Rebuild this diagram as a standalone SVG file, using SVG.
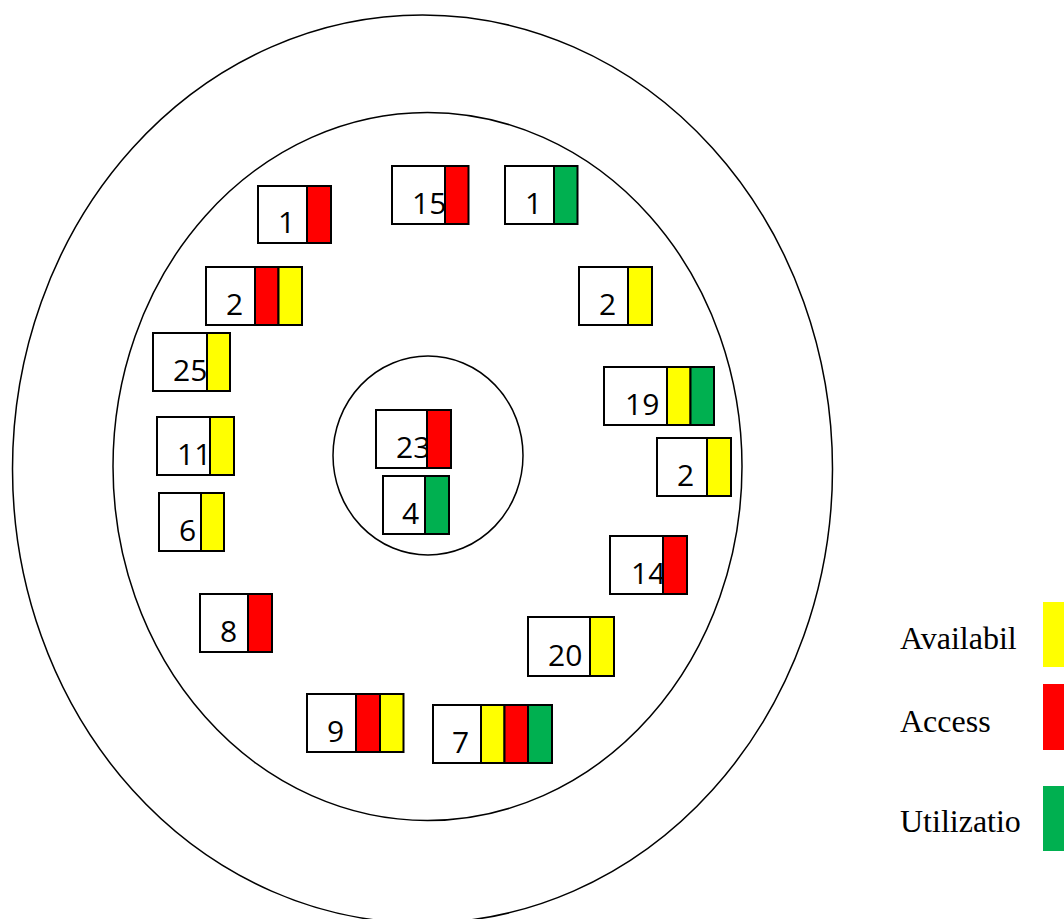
<svg xmlns="http://www.w3.org/2000/svg" width="1064" height="919" viewBox="0 0 1064 919">
  <style>
    .zone { fill: none; stroke: #000; stroke-width: 1.5; }
    .cell { fill: #fff; stroke: #000; stroke-width: 2; }
    .avail { fill: #FFFF00; stroke: #000; stroke-width: 2; }
    .access { fill: #FF0000; stroke: #000; stroke-width: 2; }
    .util { fill: #00B050; stroke: #000; stroke-width: 2; }
    .num { font-family: "Open Sans", "Noto Sans", sans-serif; font-size: 30px; fill: #000; }
    .key { font-family: "Liberation Serif", "Times New Roman", serif; font-size: 32px; fill: #000; }
    .swatch-a { fill: #FFFF00; }
    .swatch-r { fill: #FF0000; }
    .swatch-g { fill: #00B050; }
  </style>

  <rect width="1064" height="919" fill="#fff"/>

  <!-- concentric zones -->
  <g id="zones">
    <ellipse id="zone-outer" class="zone" cx="422.5" cy="469" rx="410" ry="454"/>
    <ellipse id="zone-middle" class="zone" cx="427.5" cy="466.5" rx="314.5" ry="354"/>
    <ellipse id="zone-core" class="zone" cx="428" cy="455.5" rx="95" ry="99.5"/>
  </g>

  <g id="connectors"/>

  <!-- counters: white cell with value, followed by status bars -->
  <g id="node-1">
    <rect class="cell" x="258" y="186" width="49" height="57"/>
    <text class="num" x="278" y="233">1</text>
    <rect class="access" x="307" y="186" width="24" height="57"/>
  </g>
  <g id="node-15">
    <rect class="cell" x="392" y="166" width="53" height="58"/>
    <text class="num" x="412" y="214">15</text>
    <rect class="access" x="445" y="166" width="23.5" height="58"/>
  </g>
  <g id="node-1b">
    <rect class="cell" x="505" y="166" width="49" height="58"/>
    <text class="num" x="525" y="214">1</text>
    <rect class="util" x="554" y="166" width="23.5" height="58"/>
  </g>
  <g id="node-2a">
    <rect class="cell" x="206" y="267" width="49" height="58"/>
    <text class="num" x="226" y="315">2</text>
    <rect class="access" x="255" y="267" width="23.5" height="58"/>
    <rect class="avail" x="278.5" y="267" width="23.5" height="58"/>
  </g>
  <g id="node-2b">
    <rect class="cell" x="579" y="267" width="49" height="58"/>
    <text class="num" x="599" y="315">2</text>
    <rect class="avail" x="628" y="267" width="24" height="58"/>
  </g>
  <g id="node-25">
    <rect class="cell" x="153" y="333" width="54" height="58"/>
    <text class="num" x="173" y="381">25</text>
    <rect class="avail" x="207" y="333" width="23" height="58"/>
  </g>
  <g id="node-11">
    <rect class="cell" x="157" y="417" width="53" height="58"/>
    <text class="num" x="177" y="465">11</text>
    <rect class="avail" x="210" y="417" width="24" height="58"/>
  </g>
  <g id="node-6">
    <rect class="cell" x="159" y="493" width="42" height="58"/>
    <text class="num" x="179" y="541">6</text>
    <rect class="avail" x="201" y="493" width="23" height="58"/>
  </g>
  <g id="node-23">
    <rect class="cell" x="376" y="410" width="51" height="58"/>
    <text class="num" x="396" y="458">23</text>
    <rect class="access" x="427" y="410" width="24" height="58"/>
  </g>
  <g id="node-4">
    <rect class="cell" x="383" y="476" width="42" height="58"/>
    <text class="num" x="402" y="524">4</text>
    <rect class="util" x="425" y="476" width="24" height="58"/>
  </g>
  <g id="node-19">
    <rect class="cell" x="604" y="367" width="63" height="58"/>
    <text class="num" x="625" y="415">19</text>
    <rect class="avail" x="667" y="367" width="23.5" height="58"/>
    <rect class="util" x="690.5" y="367" width="23.5" height="58"/>
  </g>
  <g id="node-2c">
    <rect class="cell" x="657" y="438" width="50" height="58"/>
    <text class="num" x="677" y="486">2</text>
    <rect class="avail" x="707" y="438" width="24" height="58"/>
  </g>
  <g id="node-14">
    <rect class="cell" x="610" y="536" width="53" height="58"/>
    <text class="num" x="631" y="584">14</text>
    <rect class="access" x="663" y="536" width="24" height="58"/>
  </g>
  <g id="node-8">
    <rect class="cell" x="200" y="594" width="48" height="58"/>
    <text class="num" x="220" y="642">8</text>
    <rect class="access" x="248" y="594" width="24" height="58"/>
  </g>
  <g id="node-20">
    <rect class="cell" x="528" y="617" width="62" height="59"/>
    <text class="num" x="548" y="666">20</text>
    <rect class="avail" x="590" y="617" width="24" height="59"/>
  </g>
  <g id="node-9">
    <rect class="cell" x="307" y="694" width="49" height="58"/>
    <text class="num" x="327" y="742">9</text>
    <rect class="access" x="356" y="694" width="24" height="58"/>
    <rect class="avail" x="380" y="694" width="23.5" height="58"/>
  </g>
  <g id="node-7">
    <rect class="cell" x="433" y="705" width="48" height="58"/>
    <text class="num" x="452" y="753">7</text>
    <rect class="avail" x="481" y="705" width="23.5" height="58"/>
    <rect class="access" x="504.5" y="705" width="23.5" height="58"/>
    <rect class="util" x="528" y="705" width="24" height="58"/>
  </g>

  <!-- key -->
  <g id="legend">
    <g id="legend-availability">
      <text class="key" x="900" y="649">Availabil</text>
      <rect class="swatch-a" x="1043" y="602" width="30" height="65"/>
    </g>
    <g id="legend-access">
      <text class="key" x="900" y="732">Access</text>
      <rect class="swatch-r" x="1043" y="684" width="30" height="66"/>
    </g>
    <g id="legend-utilization">
      <text class="key" x="900" y="832">Utilizatio</text>
      <rect class="swatch-g" x="1043" y="786" width="30" height="65"/>
    </g>
  </g>
</svg>
